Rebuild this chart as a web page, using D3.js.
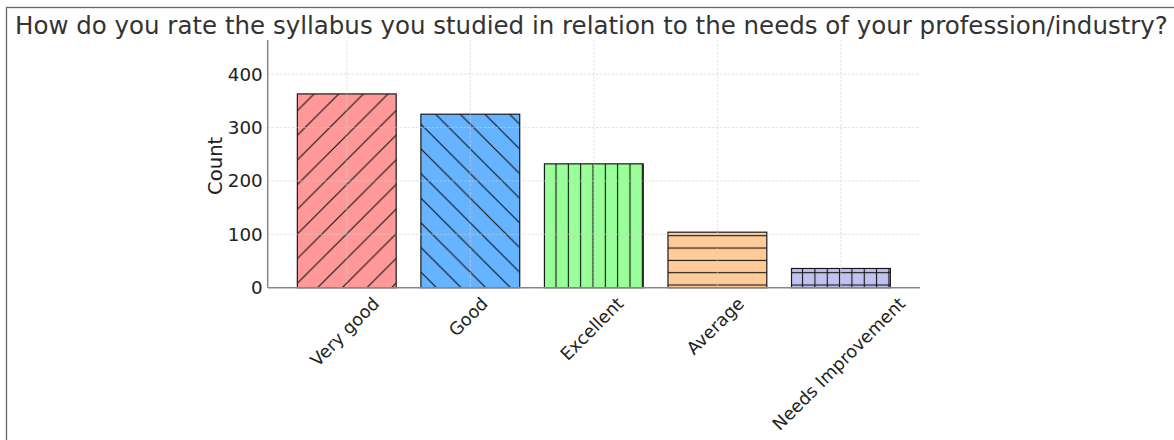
<!DOCTYPE html>
<html>
<head>
<meta charset="utf-8">
<script src="https://cdn.jsdelivr.net/npm/d3@7"></script>
<style>
  html, body { margin: 0; padding: 0; background: #fff; }
  svg { display: block; font-family: "DejaVu Sans", sans-serif; }
</style>
</head>
<body>
<svg id="chart" width="1174" height="440"></svg>
<script>
// ---- data ----
const categories = ["Very good", "Good", "Excellent", "Average", "Needs Improvement"];
const counts = [363, 325, 232, 104, 36];
const yTicks = [0, 100, 200, 300, 400];
const barColors = ["#ff9999", "#66b3ff", "#99ff99", "#ffcc99", "#c2c2f0"];
const hatches = ["/", "\\", "|", "-", "+"];
const titleText = "How do you rate the syllabus you studied in relation to the needs of your profession/industry?";
const yLabel = "Count";

// ---- layout ----
const plot = { left: 267.7, right: 920, top: 40, bottom: 287.7 };

const svg = d3.select("#chart");

// figure border
svg.append("rect")
  .attr("x", 6.5).attr("y", 7.5)
  .attr("width", 1300).attr("height", 600)
  .attr("fill", "none").attr("stroke", "#666").attr("stroke-width", 1.3);

const x = d3.scaleBand()
  .domain(categories)
  .range([plot.left, plot.right])
  .paddingInner(0.2)
  .paddingOuter(0.24);

const y = d3.scaleLinear()
  .domain([0, 464])
  .range([plot.bottom, plot.top]);

// ---- hatch patterns ----
const defs = svg.append("defs");
const s1 = 12.33, s2 = 24.66;
function makePattern(id, hatch, color) {
  let p;
  if (hatch === "/") {
    p = defs.append("pattern").attr("id", id).attr("patternUnits", "userSpaceOnUse")
      .attr("width", s2).attr("height", s2).attr("x", 408).attr("y", 0);
    p.append("rect").attr("width", s2).attr("height", s2).attr("fill", color);
    p.append("path").attr("d", `M-2,${s2 + 2}L${s2 + 2},-2 M-2,2L2,-2 M${s2 - 2},${s2 + 2}L${s2 + 2},${s2 - 2}`)
      .attr("stroke", "#111").attr("stroke-width", 1.1);
  } else if (hatch === "\\") {
    p = defs.append("pattern").attr("id", id).attr("patternUnits", "userSpaceOnUse")
      .attr("width", s2).attr("height", s2).attr("x", 321.4).attr("y", 0);
    p.append("rect").attr("width", s2).attr("height", s2).attr("fill", color);
    p.append("path").attr("d", `M-2,-2L${s2 + 2},${s2 + 2} M${s2 - 2},-2L${s2 + 2},2 M-2,${s2 - 2}L2,${s2 + 2}`)
      .attr("stroke", "#111").attr("stroke-width", 1.1);
  } else {
    p = defs.append("pattern").attr("id", id).attr("patternUnits", "userSpaceOnUse")
      .attr("width", s1).attr("height", s1).attr("x", 556 - s1 / 2).attr("y", 272.7 - s1 / 2);
    p.append("rect").attr("width", s1).attr("height", s1).attr("fill", color);
    if (hatch === "|" || hatch === "+")
      p.append("line").attr("x1", s1 / 2).attr("x2", s1 / 2).attr("y1", -1).attr("y2", s1 + 1)
        .attr("stroke", "#111").attr("stroke-width", 1.1);
    if (hatch === "-" || hatch === "+")
      p.append("line").attr("y1", s1 / 2).attr("y2", s1 / 2).attr("x1", -1).attr("x2", s1 + 1)
        .attr("stroke", "#111").attr("stroke-width", 1.1);
  }
}
categories.forEach((c, i) => makePattern("hatch" + i, hatches[i], barColors[i]));

// ---- bars ----
svg.append("g").selectAll("rect")
  .data(categories)
  .join("rect")
  .attr("x", d => x(d))
  .attr("y", (d, i) => y(counts[i]))
  .attr("width", x.bandwidth())
  .attr("height", (d, i) => y(0) - y(counts[i]))
  .attr("fill", (d, i) => `url(#hatch${i})`)
  .attr("stroke", "#1a1a1a")
  .attr("stroke-width", 1.2);

// ---- grid (drawn above bars, faint) ----
const grid = svg.append("g").attr("stroke", "#cfcfcf").attr("stroke-width", 0.8)
  .attr("stroke-dasharray", "2.5,1.5").attr("opacity", 0.75);
grid.selectAll("line.h").data(yTicks.filter(t => t > 0)).join("line")
  .attr("class", "h")
  .attr("x1", plot.left).attr("x2", plot.right)
  .attr("y1", d => y(d)).attr("y2", d => y(d));
grid.selectAll("line.v").data(categories).join("line")
  .attr("class", "v")
  .attr("x1", d => x(d) + x.bandwidth() / 2).attr("x2", d => x(d) + x.bandwidth() / 2)
  .attr("y1", plot.top).attr("y2", plot.bottom);

// ---- axes ----
const yAxis = d3.axisLeft(y).tickValues(yTicks).tickSize(0).tickPadding(5);
const gy = svg.append("g").attr("transform", `translate(${plot.left},0)`).call(yAxis);
gy.select(".domain").remove();
gy.attr("font-size", null).attr("font-family", null);
gy.selectAll("text").attr("font-size", 18.3).attr("fill", "#222")
  .attr("font-family", "DejaVu Sans");

svg.append("line")
  .attr("x1", plot.left).attr("x2", plot.left)
  .attr("y1", plot.top).attr("y2", plot.bottom)
  .attr("stroke", "#888").attr("stroke-width", 1.5);
svg.append("line")
  .attr("x1", plot.left).attr("x2", plot.right)
  .attr("y1", plot.bottom).attr("y2", plot.bottom)
  .attr("stroke", "#888").attr("stroke-width", 1.5);

// x tick labels rotated 45, centred on band (matplotlib ha=center style)
const fs = 17.6;
const xl = svg.append("g");
categories.forEach(c => {
  const t = xl.append("text")
    .attr("font-size", fs).attr("fill", "#222")
    .attr("text-anchor", "middle")
    .attr("dominant-baseline", "central")
    .text(c);
  const w = t.node().getComputedTextLength();
  const h = fs * 1.05;
  const bh = (w + h) * Math.SQRT1_2;
  const cx = x(c) + x.bandwidth() / 2 - 2;
  const cy = 294 + bh / 2;
  t.attr("transform", `translate(${cx},${cy}) rotate(-45)`);
});

// y label
svg.append("text")
  .attr("transform", `translate(222,${(plot.top + plot.bottom) / 2 + 2}) rotate(-90)`)
  .attr("text-anchor", "middle")
  .attr("font-size", 19.6).attr("fill", "#222")
  .text(yLabel);

// title
svg.append("text")
  .attr("x", 15).attr("y", 34)
  .attr("font-size", 24.5).attr("fill", "#333")
  .text(titleText);
</script>
</body>
</html>
